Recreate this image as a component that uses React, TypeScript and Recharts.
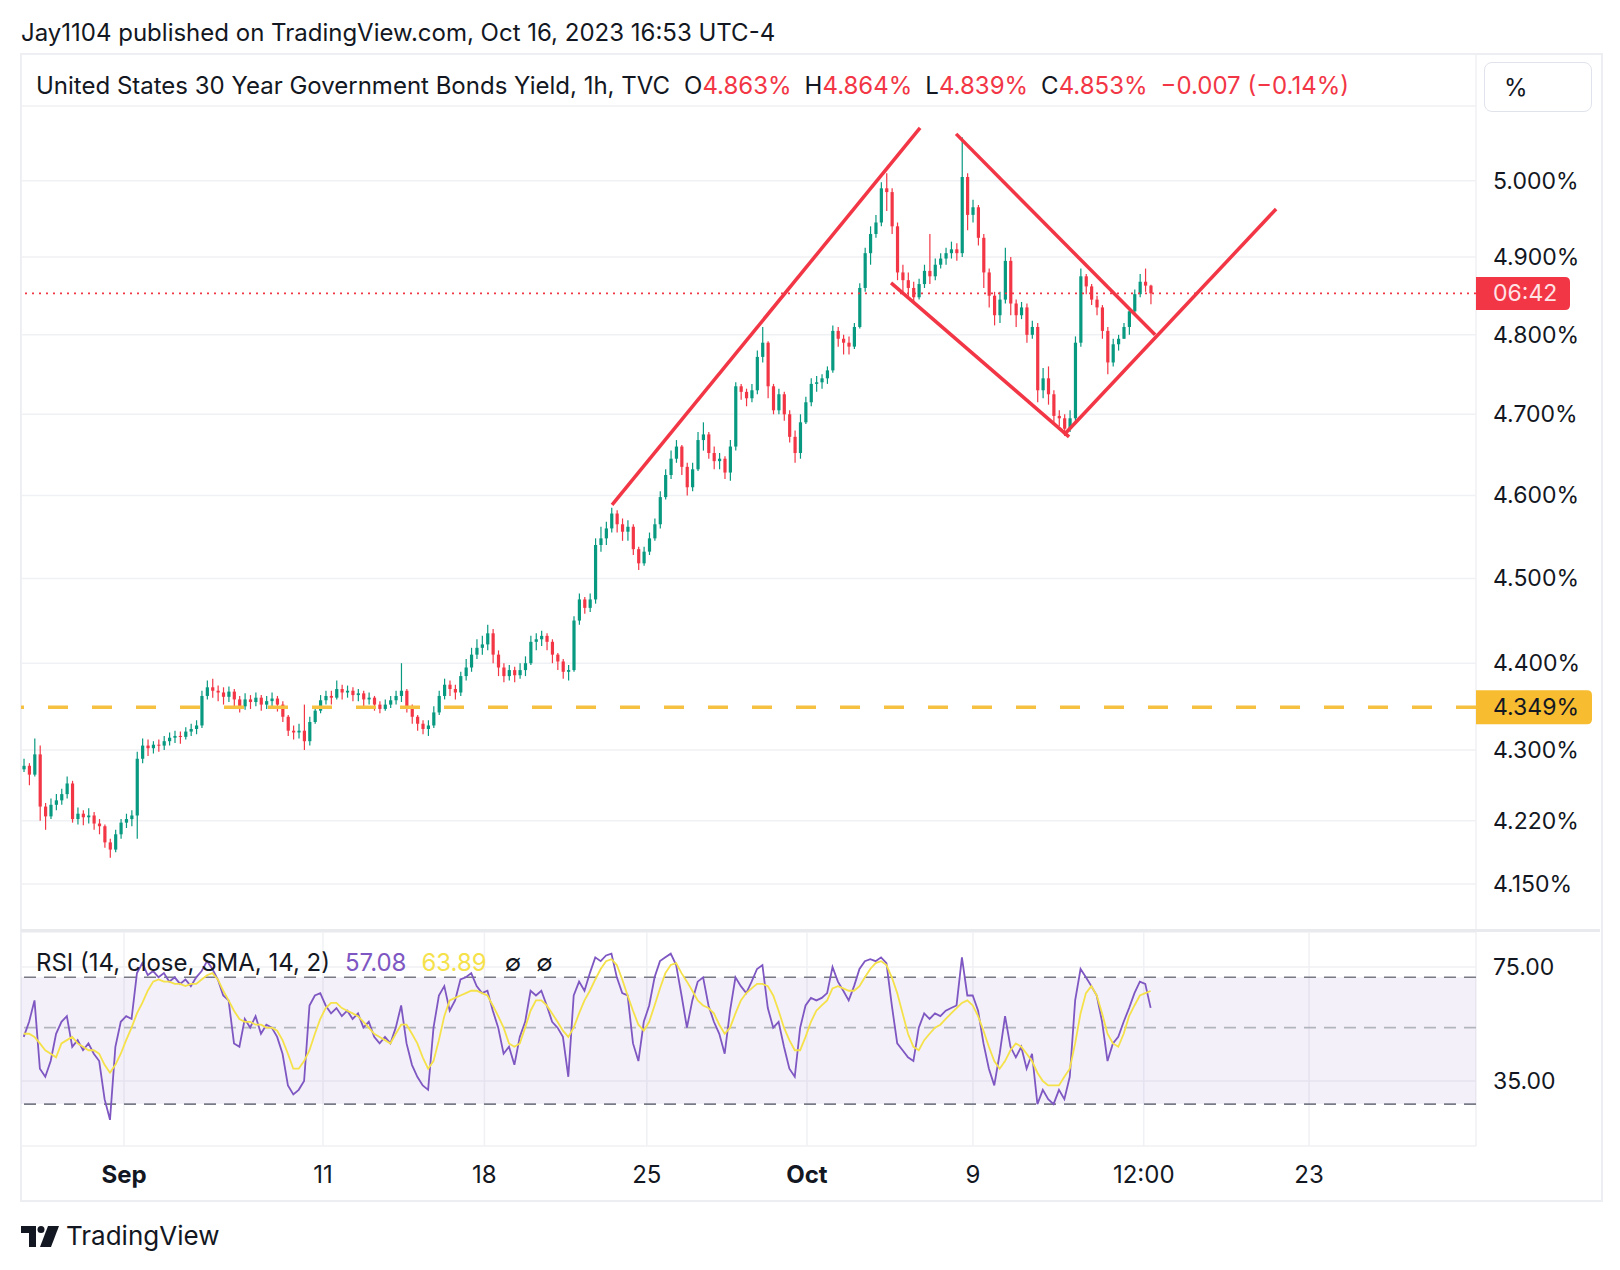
import React from 'react';
import { ComposedChart, Bar, Line, XAxis, YAxis, CartesianGrid, ReferenceLine, ReferenceArea } from 'recharts';

// 4h-ish candles (US30Y, TVC)
const opens = [
  4.278, 4.282, 4.272, 4.295, 4.236, 4.225, 4.238, 4.243, 4.25, 4.262,
  4.222, 4.228, 4.224, 4.226, 4.217, 4.214, 4.196, 4.188, 4.205, 4.218,
  4.222, 4.226, 4.29, 4.305, 4.302, 4.306, 4.305, 4.31, 4.314, 4.316,
  4.315, 4.321, 4.324, 4.328, 4.362, 4.372, 4.368, 4.366, 4.361, 4.367,
  4.358, 4.35, 4.358, 4.355, 4.36, 4.352, 4.356, 4.359, 4.352, 4.338,
  4.322, 4.32, 4.322, 4.31, 4.332, 4.345, 4.357, 4.362, 4.36, 4.37,
  4.366, 4.368, 4.363, 4.365, 4.358, 4.36, 4.352, 4.347, 4.352, 4.357,
  4.362, 4.368, 4.35, 4.338, 4.33, 4.324, 4.328, 4.343, 4.362, 4.375,
  4.37, 4.366, 4.385, 4.395, 4.41, 4.418, 4.422, 4.435, 4.41, 4.395,
  4.385, 4.392, 4.386, 4.392, 4.4, 4.425, 4.428, 4.432, 4.425, 4.41,
  4.402, 4.39, 4.392, 4.45, 4.475, 4.465, 4.475, 4.54, 4.548, 4.56,
  4.578, 4.565, 4.556, 4.562, 4.535, 4.518, 4.532, 4.548, 4.565, 4.598,
  4.625, 4.645, 4.66, 4.635, 4.61, 4.632, 4.668, 4.675, 4.652, 4.642,
  4.645, 4.628, 4.66, 4.735, 4.728, 4.72, 4.73, 4.772, 4.79, 4.735,
  4.705, 4.725, 4.7, 4.672, 4.652, 4.69, 4.715, 4.738, 4.74, 4.745,
  4.755, 4.805, 4.795, 4.79, 4.785, 4.81, 4.86, 4.905, 4.93, 4.945,
  4.99, 4.985, 4.94, 4.88, 4.87, 4.86, 4.848, 4.865, 4.882, 4.875,
  4.89, 4.898, 4.905, 4.91, 4.905, 5.005, 4.955, 4.965, 4.925, 4.88,
  4.85, 4.825, 4.845, 4.895, 4.84, 4.825, 4.835, 4.8, 4.81, 4.73,
  4.745, 4.725, 4.698, 4.695, 4.682, 4.695, 4.79, 4.875, 4.862, 4.845,
  4.835, 4.805, 4.765, 4.788, 4.795, 4.81, 4.83, 4.852, 4.868, 4.863,
];
const highs = [
  4.29, 4.285, 4.313, 4.305, 4.24, 4.245, 4.25, 4.256, 4.27, 4.265,
  4.235, 4.232, 4.234, 4.23, 4.222, 4.216, 4.2, 4.21, 4.222, 4.228,
  4.232, 4.298, 4.313, 4.312, 4.31, 4.312, 4.316, 4.32, 4.322, 4.321,
  4.326, 4.33, 4.334, 4.368, 4.38, 4.382, 4.374, 4.372, 4.373, 4.37,
  4.362, 4.365, 4.363, 4.366, 4.363, 4.362, 4.366, 4.362, 4.356, 4.34,
  4.328, 4.33, 4.352, 4.338, 4.35, 4.363, 4.368, 4.368, 4.38, 4.375,
  4.374, 4.372, 4.37, 4.368, 4.366, 4.362, 4.356, 4.358, 4.362, 4.368,
  4.4, 4.37, 4.352, 4.34, 4.334, 4.334, 4.35, 4.368, 4.382, 4.38,
  4.375, 4.39, 4.405, 4.418, 4.428, 4.432, 4.445, 4.44, 4.415, 4.4,
  4.398, 4.396, 4.4, 4.408, 4.432, 4.435, 4.438, 4.435, 4.428, 4.412,
  4.405, 4.398, 4.455, 4.482, 4.478, 4.482, 4.548, 4.562, 4.568, 4.585,
  4.582, 4.572, 4.57, 4.565, 4.538, 4.538, 4.555, 4.572, 4.605, 4.632,
  4.655, 4.668, 4.662, 4.64, 4.64, 4.678, 4.69, 4.678, 4.66, 4.652,
  4.648, 4.668, 4.74, 4.738, 4.732, 4.738, 4.78, 4.81, 4.792, 4.738,
  4.732, 4.728, 4.705, 4.68, 4.7, 4.722, 4.745, 4.748, 4.75, 4.76,
  4.812, 4.81, 4.8, 4.798, 4.815, 4.866, 4.912, 4.94, 4.955, 4.998,
  5.01, 4.99, 4.945, 4.89, 4.88, 4.868, 4.872, 4.89, 4.93, 4.898,
  4.905, 4.912, 4.92, 4.918, 5.058, 5.01, 4.975, 4.968, 4.93, 4.885,
  4.855, 4.855, 4.912, 4.9, 4.845, 4.842, 4.84, 4.818, 4.815, 4.758,
  4.76, 4.73, 4.705, 4.7, 4.705, 4.798, 4.885, 4.878, 4.865, 4.85,
  4.838, 4.81, 4.795, 4.8, 4.815, 4.835, 4.858, 4.878, 4.885, 4.864,
];
const lows = [
  4.275, 4.26, 4.27, 4.22, 4.21, 4.222, 4.232, 4.238, 4.245, 4.218,
  4.216, 4.215, 4.217, 4.21, 4.205, 4.19, 4.179, 4.185, 4.2, 4.212,
  4.214, 4.2, 4.285, 4.293, 4.296, 4.298, 4.3, 4.305, 4.308, 4.307,
  4.312, 4.316, 4.318, 4.325, 4.358, 4.36, 4.356, 4.352, 4.355, 4.35,
  4.343, 4.346, 4.347, 4.35, 4.345, 4.347, 4.35, 4.344, 4.332, 4.316,
  4.312, 4.313, 4.3, 4.305, 4.33, 4.342, 4.352, 4.352, 4.358, 4.358,
  4.36, 4.356, 4.356, 4.35, 4.352, 4.345, 4.342, 4.345, 4.348, 4.352,
  4.355, 4.343, 4.33, 4.322, 4.318, 4.316, 4.325, 4.34, 4.358, 4.362,
  4.358, 4.362, 4.38, 4.39, 4.405, 4.41, 4.415, 4.4, 4.385, 4.378,
  4.38, 4.378, 4.382, 4.385, 4.398, 4.415, 4.42, 4.415, 4.4, 4.392,
  4.382, 4.38, 4.39, 4.445, 4.458, 4.46, 4.47, 4.532, 4.54, 4.555,
  4.555, 4.545, 4.545, 4.528, 4.51, 4.515, 4.528, 4.545, 4.56, 4.595,
  4.62, 4.64, 4.625, 4.6, 4.605, 4.63, 4.655, 4.645, 4.632, 4.632,
  4.62, 4.618, 4.655, 4.718, 4.71, 4.715, 4.725, 4.765, 4.72, 4.7,
  4.7, 4.692, 4.665, 4.64, 4.645, 4.688, 4.71, 4.728, 4.732, 4.738,
  4.752, 4.785, 4.775, 4.775, 4.782, 4.808, 4.855, 4.89, 4.925, 4.94,
  4.96, 4.93, 4.87, 4.855, 4.848, 4.84, 4.845, 4.86, 4.865, 4.87,
  4.885, 4.89, 4.898, 4.895, 4.9, 4.935, 4.945, 4.915, 4.86, 4.835,
  4.812, 4.815, 4.84, 4.825, 4.81, 4.82, 4.79, 4.795, 4.715, 4.72,
  4.712, 4.69, 4.685, 4.673, 4.678, 4.69, 4.785, 4.852, 4.838, 4.825,
  4.795, 4.75, 4.76, 4.78, 4.795, 4.8, 4.825, 4.848, 4.855, 4.839,
];
const closes = [
  4.282, 4.272, 4.295, 4.236, 4.225, 4.238, 4.243, 4.25, 4.262, 4.222,
  4.228, 4.224, 4.226, 4.217, 4.214, 4.196, 4.188, 4.205, 4.218, 4.222,
  4.226, 4.29, 4.305, 4.302, 4.306, 4.305, 4.31, 4.314, 4.316, 4.315,
  4.321, 4.324, 4.328, 4.362, 4.372, 4.368, 4.366, 4.361, 4.367, 4.358,
  4.35, 4.358, 4.355, 4.36, 4.352, 4.356, 4.359, 4.352, 4.338, 4.322,
  4.32, 4.322, 4.31, 4.332, 4.345, 4.357, 4.362, 4.36, 4.37, 4.366,
  4.368, 4.363, 4.365, 4.358, 4.36, 4.352, 4.347, 4.352, 4.357, 4.362,
  4.368, 4.35, 4.338, 4.33, 4.324, 4.328, 4.343, 4.362, 4.375, 4.37,
  4.366, 4.385, 4.395, 4.41, 4.418, 4.422, 4.435, 4.41, 4.395, 4.385,
  4.392, 4.386, 4.392, 4.4, 4.425, 4.428, 4.432, 4.425, 4.41, 4.402,
  4.39, 4.392, 4.45, 4.475, 4.465, 4.475, 4.54, 4.548, 4.56, 4.578,
  4.565, 4.556, 4.562, 4.535, 4.518, 4.532, 4.548, 4.565, 4.598, 4.625,
  4.645, 4.66, 4.635, 4.61, 4.632, 4.668, 4.675, 4.652, 4.642, 4.645,
  4.628, 4.66, 4.735, 4.728, 4.72, 4.73, 4.772, 4.79, 4.735, 4.705,
  4.725, 4.7, 4.672, 4.652, 4.69, 4.715, 4.738, 4.74, 4.745, 4.755,
  4.805, 4.795, 4.79, 4.785, 4.81, 4.86, 4.905, 4.93, 4.945, 4.99,
  4.985, 4.94, 4.88, 4.87, 4.86, 4.848, 4.865, 4.882, 4.875, 4.89,
  4.898, 4.905, 4.91, 4.905, 5.005, 4.955, 4.965, 4.925, 4.88, 4.85,
  4.825, 4.845, 4.895, 4.84, 4.825, 4.835, 4.8, 4.81, 4.73, 4.745,
  4.725, 4.698, 4.695, 4.682, 4.695, 4.79, 4.875, 4.862, 4.845, 4.835,
  4.805, 4.765, 4.788, 4.795, 4.81, 4.83, 4.852, 4.868, 4.863, 4.853,
];

const rsiValues = [
  47, 52, 60, 38, 36, 40, 48, 52, 54, 44,
  46, 43, 45, 42, 40, 31, 27, 44, 52, 54,
  53, 72, 77, 71, 73, 70, 72, 68, 70, 67,
  69, 66, 70, 73, 78, 74, 69, 62, 60, 45,
  44, 53, 50, 54, 48, 51, 50, 47, 42, 34,
  32, 33, 35, 58, 62, 63, 58, 55, 57, 54,
  56, 53, 55, 50, 52, 47, 45, 47, 45, 50,
  58, 45, 39, 36, 34, 33, 50, 62, 66, 56,
  60, 69, 70, 72, 66, 63, 64, 56, 50, 42,
  44, 39, 47, 52, 64, 62, 64, 58, 52, 50,
  47, 36, 62, 68, 64, 72, 80, 78, 81, 82,
  70, 63, 62, 45, 40, 52, 58, 70, 78, 80,
  82, 76, 62, 50, 60, 68, 70, 58, 52, 48,
  42, 56, 70, 66, 63, 68, 74, 76, 57, 50,
  52, 44, 38, 36, 50, 58, 61, 60, 61, 63,
  75, 68, 64, 60, 66, 74, 78, 79, 78, 80,
  77, 58, 45, 43, 41, 40, 50, 55, 53, 55,
  54, 56, 57, 58, 80, 62, 62, 56, 45, 38,
  34, 42, 54, 44, 41, 44, 38, 42, 30, 33,
  31, 30, 33, 31, 36, 60, 74, 70, 66, 62,
  52, 40, 45, 47, 52, 57, 63, 68, 67, 57.08,
];
const rsiSmaValues = [
  48, 48, 47, 45, 43, 42, 41, 45, 46, 47,
  45, 44, 43, 43, 42, 39, 37, 39, 42, 46,
  50, 55, 59, 64, 68, 69, 68, 68, 67, 67,
  66, 67, 67, 69, 71, 72, 69, 64, 60, 56,
  53, 52, 52, 51, 51, 50, 50, 49, 46, 42,
  38, 38, 40, 43, 48, 53, 57, 59, 59, 57,
  56, 55, 54, 52, 50, 48, 47, 46, 45, 48,
  51, 51, 48, 45, 41, 38, 40, 46, 54, 60,
  61, 62, 63, 64, 64, 63, 62, 58, 54, 50,
  45, 44, 45, 50, 56, 60, 60, 58, 55, 52,
  49, 47, 50, 55, 60, 64, 69, 74, 78, 79,
  76, 69, 62, 56, 51, 49, 52, 58, 65, 72,
  76, 77, 72, 68, 64, 60, 58, 57, 55, 51,
  48, 50, 55, 60, 63, 65, 67, 67, 66, 62,
  56, 50, 46, 43, 43, 47, 52, 56, 58, 60,
  65, 66, 65, 64, 64, 66, 70, 74, 77, 78,
  76, 70, 63, 55, 48, 44, 43, 46, 48, 50,
  51, 53, 55, 57, 59, 60, 58, 54, 49, 44,
  40, 38, 40, 43, 45, 44, 42, 40, 37, 35,
  34, 34, 34, 36, 38, 45, 55, 63, 66, 62,
  55, 48, 45, 44, 48, 54, 58, 62, 63, 63.89,
];

// time axis in trading days, 0 = first bar of September
const firstBarDay = -3.1;
const barsPerDay = 6;
const dayDomain = [-3.184, 41.79];
const timeTicks = [0, 6.15, 11.14, 16.16, 21.11, 26.24, 31.52, 36.63];
const timeLabels = ['Sep', '11', '18', '25', 'Oct', '9', '12:00', '23'];
const boldLabels = ['Sep', 'Oct'];

const priceTicks = [4.15, 4.22, 4.3, 4.4, 4.5, 4.6, 4.7, 4.8, 4.9, 5.0, 5.1];
const priceDomain = [4.0997, 5.1708];
const rsiTicks = [35, 75];
const rsiDomain = [22.67, 94.77];
const supportLevel = 4.349;

// hand-drawn trend lines: [day, price] endpoints
const trendLines = [
  [[15.085, 4.5885], [24.606, 5.0705]],
  [[25.719, 5.0625], [31.87, 4.8]],
  [[23.709, 4.8666], [29.212, 4.672]],
  [[29.057, 4.6745], [35.611, 4.9627]],
];

const FONT = '-apple-system, "Inter", "Noto Sans", sans-serif';
const INK = '#131722';
const UP = '#089981';
const DOWN = '#f23645';
const GRID = '#f0f1f4';

const candles = closes.map((c, i) => ({
  t: firstBarDay + i / barsPerDay,
  open: opens[i],
  high: highs[i],
  low: lows[i],
  close: c,
  hl: [lows[i], highs[i]],
}));
const rsiRows = rsiValues.map((v, i) => ({ t: firstBarDay + i / barsPerDay, rsi: v, sma: rsiSmaValues[i] }));
const last = candles[candles.length - 1];

const Candle = (props: any) => {
  const { x, y, width, height, payload } = props;
  if (!payload || height == null) return null;
  const top = Math.min(y, y + height);
  const h = Math.abs(height);
  const lh = Math.log(payload.high);
  const ll = Math.log(payload.low);
  const toY = (v: number) => top + (h * (lh - Math.log(v))) / (lh - ll || 1);
  const cx = x + width / 2;
  const color = payload.close >= payload.open ? UP : DOWN;
  const b1 = toY(Math.max(payload.open, payload.close));
  const b2 = toY(Math.min(payload.open, payload.close));
  return (
    <g>
      <line x1={cx} x2={cx} y1={top} y2={top + h} stroke={color} strokeWidth={1.2} />
      <rect x={cx - 1.6} y={b1} width={3.2} height={Math.max(1, b2 - b1)} fill={color} />
    </g>
  );
};

const PriceTick = (props: any) => {
  const { x, y, payload } = props;
  if (payload.value >= 5.1) return <g />;
  return (
    <text x={x} y={y} dy={8} fontSize={23} fill={INK} fontFamily={FONT}>
      {payload.value.toFixed(3)}%
    </text>
  );
};

const RsiTick = (props: any) => {
  const { x, y, payload } = props;
  return (
    <text x={x} y={y} dy={8} fontSize={23} fill={INK} fontFamily={FONT}>
      {payload.value.toFixed(2)}
    </text>
  );
};

const TimeTick = (props: any) => {
  const { x, y, payload } = props;
  const label = timeLabels[timeTicks.indexOf(payload.value)];
  return (
    <text x={x} y={y} dy={37} textAnchor="middle" fontSize={24} fill={INK} fontFamily={FONT}
      fontWeight={boldLabels.includes(label) ? 700 : 400}>
      {label}
    </text>
  );
};

const Badge = (props: any) => {
  const { viewBox, text, bg, fg, w, h } = props;
  if (!viewBox) return null;
  const x = viewBox.x + viewBox.width;
  const y = viewBox.y - h / 2;
  const r = 5;
  const d = `M${x},${y} H${x + w - r} Q${x + w},${y} ${x + w},${y + r} V${y + h - r} Q${x + w},${y + h} ${x + w - r},${y + h} H${x} Z`;
  return (
    <g>
      <path d={d} fill={bg} />
      <text x={x + 17} y={viewBox.y} dy={8} fontSize={23} fill={fg} fontFamily={FONT}>{text}</text>
    </g>
  );
};

export default function App() {
  const abs = (l: number, t: number): React.CSSProperties => ({ position: 'absolute', left: l, top: t });
  return (
    <div style={{ position: 'absolute', left: 0, top: 0, width: 1620, height: 1270, background: '#fff', fontFamily: FONT, color: INK, overflow: 'hidden' }}>
      <div style={{ ...abs(21, 18), fontSize: 24, whiteSpace: 'nowrap' }}>
        Jay1104 published on TradingView.com, Oct 16, 2023 16:53 UTC-4
      </div>

      {/* frame */}
      <div style={{ ...abs(20, 53), width: 1579, height: 1145, border: '2px solid #eceef2', boxSizing: 'content-box' }} />

      <div style={{ ...abs(21, 54) }}>
        <ComposedChart width={1579} height={876} data={candles} margin={{ top: 0, right: 0, bottom: 0, left: 0 }}>
          <CartesianGrid stroke={GRID} strokeWidth={1.5} />
          <XAxis type="number" dataKey="t" domain={dayDomain} allowDataOverflow ticks={timeTicks}
            tick={false} axisLine={false} tickLine={false} height={0} />
          <YAxis orientation="right" scale="log" domain={priceDomain} allowDataOverflow ticks={priceTicks}
            interval={0} width={124} axisLine={false} tickLine={false} tickSize={0} tickMargin={17} tick={<PriceTick />} />
          <ReferenceLine y={supportLevel} stroke="#f6c040" strokeWidth={3.5} strokeDasharray="20 24"
            label={<Badge text="4.349%" bg="#f7bc30" fg={INK} w={116} h={34} />} />
          <ReferenceLine y={last.close} stroke={DOWN} strokeWidth={1.8} strokeDasharray="2 5"
            label={<Badge text="06:42" bg={DOWN} fg="#ffe3e5" w={94} h={33} />} />
          <Bar dataKey="hl" barSize={4} shape={<Candle />} isAnimationActive={false} />
          {trendLines.map((seg, k) => (
            <ReferenceLine key={k} segment={[{ x: seg[0][0], y: seg[0][1] }, { x: seg[1][0], y: seg[1][1] }]}
              stroke={DOWN} strokeWidth={3.5} ifOverflow="visible" />
          ))}
        </ComposedChart>
      </div>

      {/* legend */}
      <div style={{ ...abs(36, 71), fontSize: 24, whiteSpace: 'nowrap' }}>
        <span>United States 30 Year Government Bonds Yield, 1h, TVC</span>
        <span style={{ marginLeft: 14 }}>O</span><span style={{ color: DOWN }}>{last.open.toFixed(3)}%</span>
        <span style={{ marginLeft: 13 }}>H</span><span style={{ color: DOWN }}>{last.high.toFixed(3)}%</span>
        <span style={{ marginLeft: 13 }}>L</span><span style={{ color: DOWN }}>{last.low.toFixed(3)}%</span>
        <span style={{ marginLeft: 13 }}>C</span><span style={{ color: DOWN }}>{last.close.toFixed(3)}%</span>
        <span style={{ marginLeft: 13, color: DOWN }}>−0.007 (−0.14%)</span>
      </div>
      <div style={{ ...abs(1484, 62), width: 108, height: 50, border: '1px solid #e0e3eb', borderRadius: 8, fontSize: 24, lineHeight: '50px', paddingLeft: 19, boxSizing: 'border-box' }}>%</div>

      {/* pane separator */}
      <div style={{ ...abs(21, 929), width: 1579, height: 3, background: '#e8eaee' }} />

      <div style={{ ...abs(21, 932) }}>
        <ComposedChart width={1579} height={267} data={rsiRows} margin={{ top: 0, right: 0, bottom: 0, left: 0 }}>
          <CartesianGrid stroke={GRID} strokeWidth={1.5} />
          <XAxis type="number" dataKey="t" domain={dayDomain} allowDataOverflow ticks={timeTicks} interval={0}
            height={53} axisLine={false} tickLine={false} tickSize={0} tickMargin={0} tick={<TimeTick />} />
          <YAxis orientation="right" scale="log" domain={rsiDomain} allowDataOverflow ticks={rsiTicks} interval={0}
            width={124} axisLine={false} tickLine={false} tickSize={0} tickMargin={17} tick={<RsiTick />} />
          <ReferenceArea y1={30} y2={70} fill="#7e57c2" fillOpacity={0.09} stroke="none" />
          <ReferenceLine y={70} stroke="#787b86" strokeWidth={1.6} strokeDasharray="12 8" />
          <ReferenceLine y={50} stroke="#b2b5be" strokeWidth={1.6} strokeDasharray="12 8" />
          <ReferenceLine y={30} stroke="#787b86" strokeWidth={1.6} strokeDasharray="12 8" />
          <Line type="linear" dataKey="rsi" stroke="#7e57c2" strokeWidth={1.8} dot={false} isAnimationActive={false} />
          <Line type="linear" dataKey="sma" stroke="#f5e14a" strokeWidth={1.8} dot={false} isAnimationActive={false} />
        </ComposedChart>
      </div>

      <div style={{ ...abs(36, 948), fontSize: 24, whiteSpace: 'nowrap' }}>
        <span>RSI (14, close, SMA, 14, 2)</span>
        <span style={{ marginLeft: 15, color: '#7e57c2' }}>{rsiValues[rsiValues.length - 1].toFixed(2)}</span>
        <span style={{ marginLeft: 15, color: '#f5e14a' }}>{rsiSmaValues[rsiSmaValues.length - 1].toFixed(2)}</span>
        <span style={{ marginLeft: 18 }}>∅</span>
        <span style={{ marginLeft: 15 }}>∅</span>
      </div>

      {/* footer logo */}
      <svg style={{ ...abs(21, 1225) }} width={40} height={24} viewBox="0 0 40 24">
        <path d="M0 1 H15 V22 H8 V8 H0 Z" fill={INK} />
        <circle cx={20} cy={4.5} r={3.5} fill={INK} />
        <path d="M27 1 H38 L30 22 H19 Z" fill={INK} />
      </svg>
      <div style={{ ...abs(66, 1220), fontSize: 26, whiteSpace: 'nowrap' }}>TradingView</div>
    </div>
  );
}
